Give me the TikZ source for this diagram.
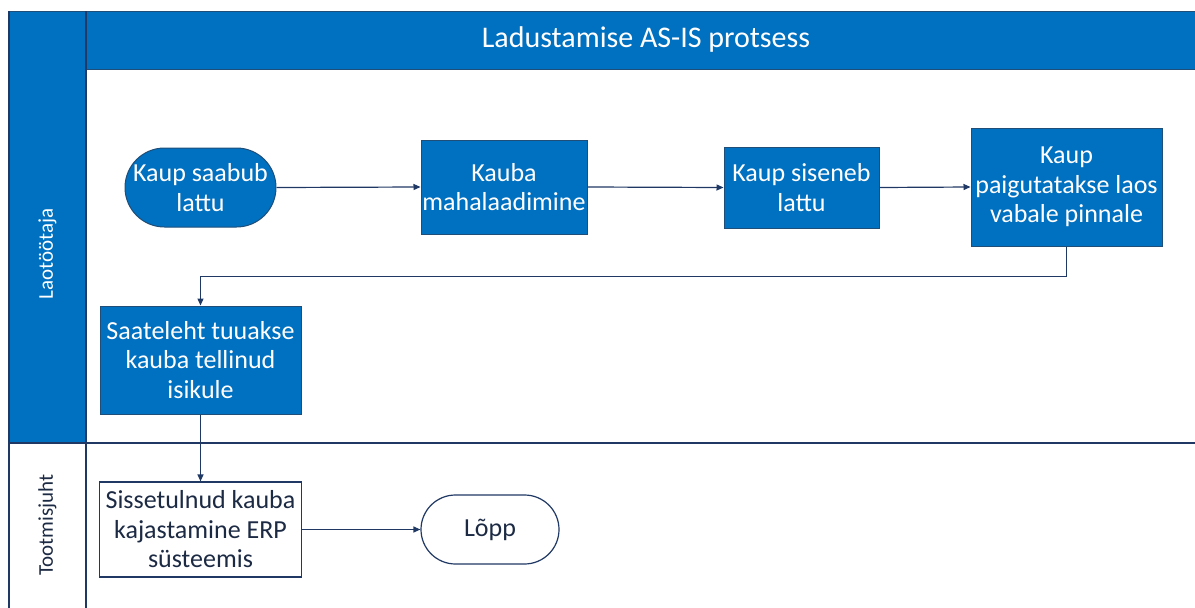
\documentclass[tikz,border=0pt]{standalone}
\usepackage{fontspec}
\setmainfont{Carlito}
\usetikzlibrary{arrows.meta,shapes.misc}
\definecolor{lblue}{HTML}{0070C0}
\definecolor{bord}{HTML}{1F4E79}
\definecolor{navy}{HTML}{1F3864}
\definecolor{dtext}{HTML}{1C2A44}
\begin{document}
\begin{tikzpicture}[x=1pt,y=-1pt,
  boxtext/.style={align=center, font=\fontsize{26}{29.5}\selectfont, inner sep=0pt},
  bluebox/.style={boxtext, draw=bord, line width=1pt, fill=lblue, text=white},
  whitebox/.style={boxtext, draw=navy, line width=1.2pt, fill=white, text=dtext},
  stadium/.style={rounded rectangle},
  arr/.style={draw=navy, line width=1.2pt, -{Triangle[length=7pt,width=6pt]}},
  lanelabel/.style={rotate=90, font=\fontsize{21}{25}\selectfont, inner sep=0pt}
]
\useasboundingbox (0,0) rectangle (1195,608);
% pool frame
\fill[lblue] (9,11) rectangle (86,443);
\fill[lblue] (86,11) rectangle (1195,69);
\draw[bord, line width=1pt] (9,11) -- (1195,11);
\draw[bord, line width=1pt] (86,69) -- (1195,69);
\draw[navy, line width=1.2pt] (9,11) -- (9,608);
\draw[navy, line width=1.2pt] (86,11) -- (86,608);
\draw[navy, line width=1.2pt] (9,443) -- (1195,443);
% title and lane labels
\node[font=\fontsize{30}{35}\selectfont, text=white] (title) at (646,40) {Ladustamise AS-IS protsess};
\node[lanelabel, text=white] (lane1) at (47.5,254) {Laotöötaja};
\node[lanelabel, text=dtext] (lane2) at (47.5,525) {Tootmisjuht};
% process nodes
\node[bluebox, stadium, minimum width=151pt, minimum height=79pt] (n1) at (200.5,187.5) {Kaup saabub\\lattu};
\node[bluebox, minimum width=166pt, minimum height=94pt] (n2) at (504,187) {Kauba\\mahalaadimine};
\node[bluebox, minimum width=155pt, minimum height=81pt] (n3) at (801.5,187.5) {Kaup siseneb\\lattu};
\node[bluebox, minimum width=191pt, minimum height=118pt] (n4) at (1066.5,187) {Kaup\\paigutatakse laos\\vabale pinnale};
\node[bluebox, minimum width=201pt, minimum height=108pt] (n5) at (200.5,360) {Saateleht tuuakse\\kauba tellinud\\isikule};
\node[whitebox, minimum width=202pt, minimum height=95pt] (n6) at (200.5,529.5) {Sissetulnud kauba\\kajastamine ERP\\süsteemis};
\node[whitebox, stadium, minimum width=138pt, minimum height=69pt] (n7) at (490,529.5) {Lõpp};
% connectors
\draw[arr] (n1.east) -- (n2.west);
\draw[arr] (n2.east) -- (n3.west);
\draw[arr] (n3.east) -- (n4.west);
\draw[arr] (n4.south) -- ++(0,30) -| (n5.north);
\draw[arr] (n5.south) -- (n6.north);
\draw[arr] (n6.east) -- (n7.west);
\end{tikzpicture}
\end{document}
